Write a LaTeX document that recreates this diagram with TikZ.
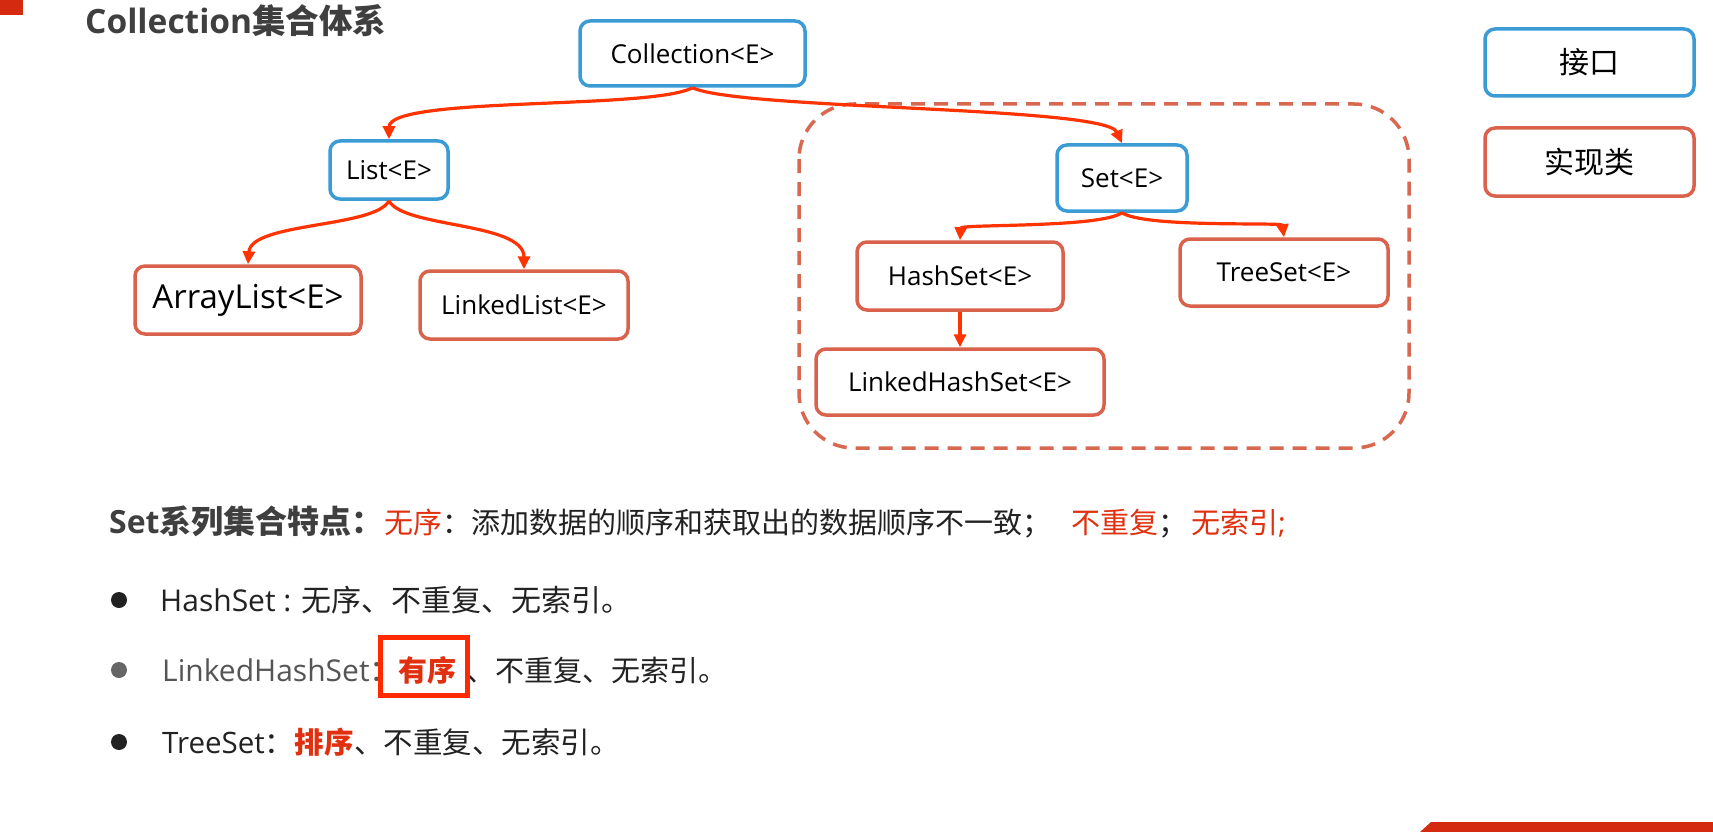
\documentclass[tikz,border=0pt]{standalone}
\usepackage{fontspec}
\setmainfont{Open Sans}
\newfontfamily\cjk{Noto Sans CJK SC}
\usetikzlibrary{arrows.meta}
\definecolor{ifblue}{HTML}{3A9BD5}
\definecolor{clsred}{HTML}{DA624C}
\definecolor{arrred}{HTML}{FF3300}
\definecolor{dashred}{HTML}{D86850}
\definecolor{txtred}{HTML}{E0300F}
\definecolor{boxred}{HTML}{FF2A00}
\definecolor{titlegray}{HTML}{3F3F3F}
\definecolor{txtblack}{HTML}{222222}
\definecolor{softgray}{HTML}{555555}
\definecolor{cornerred}{HTML}{D42A10}
\newcommand\fsz[1]{\fontsize{#1}{#1}\selectfont}
\begin{document}
\begin{tikzpicture}[x=1pt,y=-1pt,
  box/.style={rounded corners=10pt, line width=3.5pt, fill=white, inner sep=0pt, text=black, font=\fsz{26}},
  iface/.style={box, draw=ifblue},
  impl/.style={box, draw=clsred},
  arr/.style={draw=arrred, line width=3.2pt, -{Triangle[length=13pt,width=12pt]}},
  txt/.style={inner sep=0pt, anchor=base west, text=txtblack, font=\fsz{29}},
  bullet/.style={circle, inner sep=0pt, minimum size=16pt},
]
\useasboundingbox (0,0) rectangle (1713,832);
\fill[white] (0,0) rectangle (1713,832);
\fill[cornerred] (0,0) rectangle (23,15);
\fill[cornerred] (1420,832) -- (1431,822) -- (1713,822) -- (1713,832) -- cycle;

% title
\node[txt, font=\fsz{33.5}\bfseries, text=titlegray] (title) at (85,34) {Collection{\cjk 集合体系}};

% dashed group
\draw[dashred, line width=3.5pt, dash pattern=on 14pt off 9pt, rounded corners=55pt] (799,104) rectangle (1409,448);

% nodes
\node[iface, minimum width=225pt, minimum height=65pt] (coll) at (692.5,53.5) {Collection<E>};
\node[iface, minimum width=118pt, minimum height=58pt] (list) at (389,170) {List<E>};
\node[impl, minimum width=226pt, minimum height=68pt, font=\fsz{33}] (alist) at (248,300) {ArrayList<E>};
\node[impl, minimum width=208pt, minimum height=68pt] (llist) at (524,305) {LinkedList<E>};
\node[iface, minimum width=130pt, minimum height=66pt] (set) at (1122,178) {Set<E>};
\node[impl, minimum width=206pt, minimum height=68pt] (hash) at (960,276) {HashSet<E>};
\node[impl, minimum width=208pt, minimum height=67pt] (tree) at (1284,272.5) {TreeSet<E>};
\node[impl, minimum width=288pt, minimum height=66pt] (lhs) at (960,382) {LinkedHashSet<E>};

% legend
\node[iface, minimum width=209pt, minimum height=67pt, font=\cjk\fsz{30}] (leg1) at (1589.5,62.5) {接口};
\node[impl, minimum width=209pt, minimum height=68pt, font=\cjk\fsz{30}] (leg2) at (1589.5,162) {实现类};

% arrows
\draw[arr] (coll.south) .. controls (650,110) and (389,96) .. (list.north);
\draw[arr] (coll.south) .. controls (740,110) and (1105,106) .. (set.north);
\draw[arr] (list.south) .. controls (375,228) and (251,222) .. (alist.north);
\draw[arr] (list.south) .. controls (403,228) and (524,222) .. (llist.north);
\draw[arr] (set.south) .. controls (1100,228) and (961,224) .. (hash.north);
\draw[arr] (set.south) .. controls (1145,228) and (1282,222) .. (tree.north);
\draw[arr] (hash.south) -- (lhs.north);

% Set line
\node[txt, font=\fsz{32}\bfseries, text=titlegray] (s1) at (109,533) {Set{\cjk 系列集合特点：}};
\node[txt, text=txtred] (s2) at (s1.base east) {\cjk 无序};
\node[txt] (s3) at (s2.base east) {\cjk ：添加数据的顺序和获取出的数据顺序不一致；};
\node[txt, text=txtred] (s4) at (1071,533) {\cjk 不重复};
\node[txt] (s5) at (s4.base east) {\cjk ；};
\node[txt, text=txtred] (s6) at (1191,533) {{\cjk 无索引};};

% bullets
\node[bullet, fill=txtblack] (b1) at (119,600) {};
\node[bullet, fill=softgray!90] (b2) at (119,670) {};
\node[bullet, fill=txtblack] (b3) at (119,742) {};

\node[txt, font=\fsz{30}] (h1) at (160,611) {HashSet : {\cjk 无序、不重复、无索引。}};

\node[txt, text=softgray, font=\fsz{30}] (l2a) at (162,681) {LinkedHashSet{\cjk ：}};
\node[txt, font=\fsz{29}\bfseries, text=txtred] (l2b) at (398,681) {\cjk 有序};
\node[txt, xshift=10pt] (l2c) at (l2b.base east) {\cjk 、不重复、无索引。};
\node[draw=boxred, line width=5pt, minimum width=87pt, minimum height=58pt, inner sep=0pt] (hl) at (424,666.5) {};

\node[txt, font=\fsz{29.5}] (t3a) at (162,753) {TreeSet{\cjk ：}};
\node[txt, font=\fsz{29.5}\bfseries, text=txtred] (t3b) at (t3a.base east) {\cjk 排序};
\node[txt, font=\fsz{29.5}] (t3c) at (t3b.base east) {\cjk 、不重复、无索引。};
\end{tikzpicture}
\end{document}
